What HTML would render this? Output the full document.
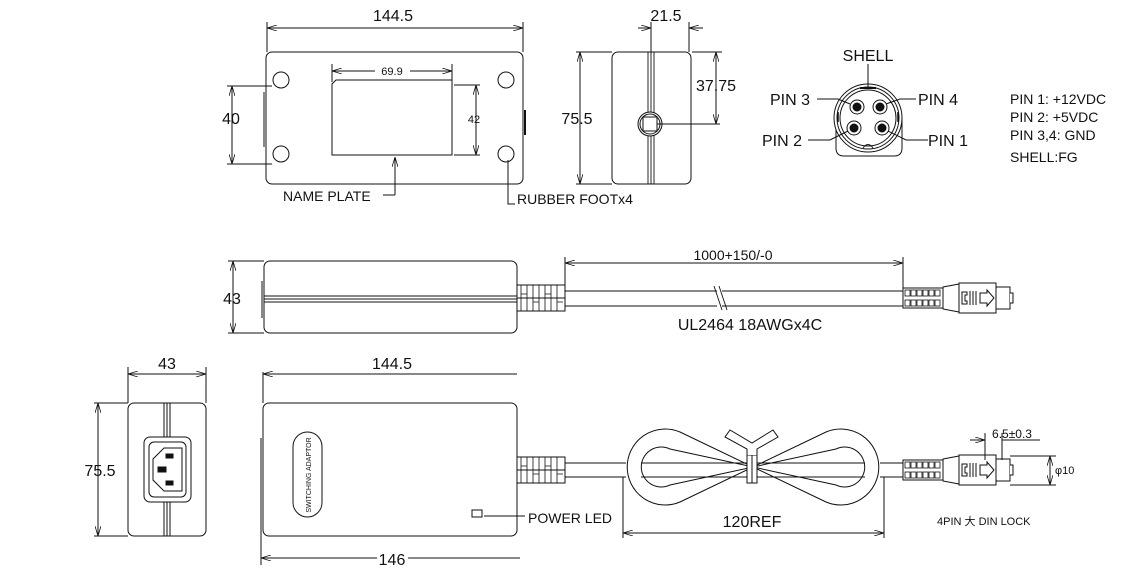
<!DOCTYPE html>
<html><head><meta charset="utf-8"><style>
html,body{margin:0;padding:0;background:#fff;}
svg{display:block;}
text{font-family:"Liberation Sans","Noto Sans CJK SC",sans-serif;fill:#111;}
</style></head><body>
<svg width="1145" height="573" viewBox="0 0 1145 573" xmlns="http://www.w3.org/2000/svg">
<defs>
<marker id="a" viewBox="0 0 10 6" refX="10" refY="3" markerWidth="10" markerHeight="6" orient="auto-start-reverse" markerUnits="userSpaceOnUse"><path d="M0,0 L10,3 L0,6" fill="none" stroke="#111" stroke-width="0.8"/></marker>
<g id="conn" fill="#fff" stroke="#111" stroke-width="1">
  <rect x="0" y="-10" width="40" height="20"/>
  <g stroke-width="0.8">
    <rect x="2" y="-8" width="5" height="6"/><rect x="8" y="-8" width="5" height="6"/><rect x="14" y="-8" width="5" height="6"/><rect x="20" y="-8" width="5" height="6"/><rect x="26" y="-8" width="5" height="6"/><rect x="32" y="-8" width="5" height="6"/>
    <rect x="2" y="2" width="5" height="6"/><rect x="8" y="2" width="5" height="6"/><rect x="14" y="2" width="5" height="6"/><rect x="20" y="2" width="5" height="6"/><rect x="26" y="2" width="5" height="6"/><rect x="32" y="2" width="5" height="6"/>
  </g>
  <path d="M40,-11 L56,-14 L56,14 L40,11 Z"/>
  <rect x="56" y="-15" width="37" height="30"/>
  <path d="M59,-6 h5 v3 h-2 v6 h2 v3 h-5 Z"/>
  <line x1="67" y1="-7" x2="67" y2="7"/><line x1="70" y1="-7" x2="70" y2="7"/><line x1="73" y1="-7" x2="73" y2="7"/>
  <path d="M77,-5 h7 v-3 l7,8 l-7,8 v-3 h-7 Z"/>
  <rect x="93" y="-11" width="14" height="22"/>
  <path d="M107,-5 h3 v10 h-3"/>
</g>
<g id="relief" fill="#fff" stroke="#111" stroke-width="1">
  <rect x="0" y="-13" width="48" height="26"/>
  <path d="M0,0 H48" />
  <path d="M4,-13 v26 M10,-13 v26 M16,-13 v26 M22,-13 v26 M28,-13 v26 M34,-13 v26 M40,-13 v26" stroke-width="0.8"/>
  <path d="M4,-4 h6 M16,4 h6 M28,-4 h6 M40,4 h6" stroke-width="0.8"/>
</g>
</defs>
<g fill="none" stroke="#111" stroke-width="1">
<!-- TOP VIEW -->
<rect x="266" y="52" width="257" height="132" rx="6"/>
<path d="M264,92 V147"/>
<path d="M525,110 V135" stroke-width="2"/>
<circle cx="281" cy="80" r="8"/><circle cx="281" cy="154" r="8"/>
<circle cx="506" cy="80" r="8"/><circle cx="506" cy="154" r="8"/>
<path d="M336,80 L332,84 V155 H452 V80 Z"/>
<path d="M267,22 V52 M523,22 V52"/>
<line x1="267" y1="28" x2="523" y2="28" marker-start="url(#a)" marker-end="url(#a)"/>
<path d="M332,64 V82 M452,64 V82"/>
<line x1="332" y1="71" x2="375" y2="71" marker-start="url(#a)"/>
<line x1="410" y1="71" x2="452" y2="71" marker-end="url(#a)"/>
<path d="M454,85 H480 M454,155 H480"/>
<line x1="476" y1="85" x2="476" y2="155" marker-start="url(#a)" marker-end="url(#a)"/>
<path d="M227,86 H272 M227,164 H272"/>
<line x1="232" y1="86" x2="232" y2="164" marker-start="url(#a)" marker-end="url(#a)"/>
<line x1="395" y1="195" x2="395" y2="157" marker-end="url(#a)"/>
<path d="M383,195 H395"/>
<path d="M508,160 V204 H515"/>

<!-- SIDE VIEW -->
<rect x="612" y="52" width="79" height="132" rx="6"/>
<path d="M648,52 V184 M651,52 V184 M654,52 V184" stroke-width="0.9"/>
<circle cx="650" cy="124" r="12" fill="#fff"/>
<circle cx="650" cy="124" r="10"/>
<rect x="643" y="117" width="14" height="14" fill="#fff"/>
<path d="M657,124 H720"/>
<path d="M576,52 H612 M576,184 H612"/>
<line x1="580" y1="52" x2="580" y2="184" marker-start="url(#a)" marker-end="url(#a)"/>
<path d="M651,22 V52 M689,22 V52"/>
<line x1="638" y1="28" x2="651" y2="28" marker-end="url(#a)"/>
<line x1="703" y1="28" x2="689" y2="28" marker-end="url(#a)"/>
<path d="M692,52 H722"/>
<line x1="716" y1="52" x2="716" y2="124" marker-start="url(#a)" marker-end="url(#a)"/>

<!-- PIN VIEW -->
<path d="M836,118 V148 Q836,156 844,156 H894 Q902,156 902,148 V118"/>
<circle cx="868" cy="118" r="34" fill="#fff"/>
<circle cx="868" cy="118" r="31"/>
<circle cx="868" cy="118" r="28"/>
<path d="M860,88 H876" stroke-width="2"/>
<path d="M863,148 Q868,141 873,148"/>
<path d="M838,112 v10 M898,112 v10" stroke-width="1.5"/>
<circle cx="857" cy="107" r="7"/><circle cx="857" cy="107" r="4" fill="#111"/>
<circle cx="880" cy="107" r="7"/><circle cx="880" cy="107" r="4" fill="#111"/>
<circle cx="854" cy="128" r="7"/><circle cx="854" cy="128" r="4" fill="#111"/>
<circle cx="882" cy="128" r="7"/><circle cx="882" cy="128" r="4" fill="#111"/>
<path d="M868,64 V88"/>
<path d="M817,99 H838 L850,104"/>
<path d="M916,99 H900 L886,104"/>
<path d="M808,140 H830 L848,131"/>
<path d="M928,140 H906 L888,131"/>

<!-- MIDDLE VIEW -->
<rect x="264" y="261" width="253" height="72" rx="6"/>
<path d="M264,296 H517 M264,299 H517 M264,302 H517" stroke-width="1"/>
<path d="M262,281 V318"/>
<path d="M228,261 H264 M228,333 H264"/>
<line x1="233" y1="261" x2="233" y2="333" marker-start="url(#a)" marker-end="url(#a)"/>
<use href="#relief" x="517" y="298"/>
<path d="M565,291 H903 M565,306 H903"/>
<rect x="717" y="289" width="5" height="19" fill="#fff" stroke="none"/>
<path d="M714,286 L722,310 M719,286 L727,310" stroke-width="0.9"/>
<path d="M565,257 V291 M903,257 V291"/>
<line x1="565" y1="263" x2="903" y2="263" marker-start="url(#a)" marker-end="url(#a)"/>
<use href="#conn" x="903" y="298"/>

<!-- BOTTOM LEFT VIEW -->
<rect x="128" y="403" width="78" height="133" rx="6"/>
<path d="M164,403 V536 M167,403 V536 M170,403 V536"/>
<rect x="144" y="437" width="47" height="65" rx="6" fill="#fff"/>
<rect x="149" y="442" width="37" height="55" rx="5"/>
<path d="M164,448 H182 V491 H164 L153,480 V459 Z"/>
<rect x="166" y="454" width="7" height="4" fill="#111"/>
<rect x="158" y="467" width="8" height="5" fill="#111"/>
<rect x="166" y="481" width="7" height="4" fill="#111"/>
<path d="M128,367 V403 M206,367 V403"/>
<line x1="128" y1="374" x2="206" y2="374" marker-start="url(#a)" marker-end="url(#a)"/>
<path d="M94,403 H128 M94,536 H128"/>
<line x1="98" y1="403" x2="98" y2="536" marker-start="url(#a)" marker-end="url(#a)"/>

<!-- BOTTOM MAIN VIEW -->
<rect x="263" y="403" width="254" height="133" rx="6"/>
<path d="M261,438 V538"/>
<path d="M263,372 V403"/>
<line x1="263" y1="374" x2="517" y2="374" marker-start="url(#a)"/>
<line x1="261" y1="558" x2="520" y2="558" marker-start="url(#a)"/>
<path d="M261,538 V565"/>
<rect x="293" y="432" width="29" height="85" rx="14.5"/>
<rect x="472" y="510" width="10" height="7"/>
<path d="M484,516 H525"/>
<use href="#relief" x="517" y="470"/>
<path d="M565,463 H626 M565,477 H626 M880,463 H903 M880,477 H903"/>
<!-- loops -->
<path d="M680,432 A38,38 0 1 0 680,502 L826,432 A38,38 0 1 1 826,502 Z"/>
<path d="M670,449 A20,20 0 1 0 670,485 L836,449 A20,20 0 1 1 836,485 Z"/>
<path d="M641,463 H865 M641,477 H865"/>
<!-- tie -->
<rect x="747" y="455" width="10" height="28" fill="#fff"/>
<path d="M752,455 V483"/>
<path d="M747,455 V449 L725,437 L730,430 L752,443 L773,430 L778,437 L757,449 V455" fill="#fff"/>
<path d="M623,477 V538 M884,477 V538"/>
<line x1="623" y1="533" x2="884" y2="533" marker-start="url(#a)" marker-end="url(#a)"/>
<use href="#conn" x="903" y="470"/>
<path d="M985,433 V460 M1002,433 V460"/>
<line x1="970" y1="440" x2="985" y2="440" marker-end="url(#a)"/>
<line x1="1040" y1="440" x2="1002" y2="440"/>
<path d="M1010,456 H1056 M1010,485 H1056"/>
<line x1="1050" y1="456" x2="1050" y2="485" marker-start="url(#a)" marker-end="url(#a)"/>
</g>

<g font-size="16">
<text x="393" y="21" text-anchor="middle">144.5</text>
<text x="392" y="75" text-anchor="middle" font-size="11">69.9</text>
<text x="474" y="123" text-anchor="middle" font-size="11">42</text>
<text x="231" y="124" text-anchor="middle">40</text>
<text x="283" y="201" font-size="14">NAME PLATE</text>
<text x="517" y="204" font-size="14">RUBBER FOOTx4</text>
<text x="577" y="124" text-anchor="middle">75.5</text>
<text x="666" y="21" text-anchor="middle">21.5</text>
<text x="716" y="91" text-anchor="middle">37.75</text>
<text x="868" y="61" text-anchor="middle">SHELL</text>
<text x="770" y="105">PIN 3</text>
<text x="918" y="105">PIN 4</text>
<text x="762" y="146">PIN 2</text>
<text x="928" y="146">PIN 1</text>
<text x="1010" y="104" font-size="14">PIN 1: +12VDC</text>
<text x="1010" y="122" font-size="14">PIN 2: +5VDC</text>
<text x="1010" y="140" font-size="14">PIN 3,4: GND</text>
<text x="1010" y="162" font-size="14">SHELL:FG</text>
<text x="232" y="304" text-anchor="middle">43</text>
<text x="733" y="260" text-anchor="middle" font-size="14">1000+150/-0</text>
<text x="750" y="330" text-anchor="middle">UL2464 18AWGx4C</text>
<text x="167" y="369" text-anchor="middle">43</text>
<text x="100" y="476" text-anchor="middle">75.5</text>
<text x="392" y="369" text-anchor="middle">144.5</text>
<text x="392" y="565" text-anchor="middle" fill="#111" stroke="#fff" stroke-width="6" paint-order="stroke">146</text>
<text x="528" y="523" font-size="14">POWER LED</text>
<text x="752" y="527" text-anchor="middle">120REF</text>
<text x="1012" y="438" text-anchor="middle" font-size="12">6.5±0.3</text>
<text x="1055" y="474" font-size="11">φ10</text>
<text x="937" y="525" font-size="11">4PIN 大 DIN LOCK</text>
<text transform="translate(311,475) rotate(-90)" text-anchor="middle" font-size="7">SWITCHING ADAPTOR</text>
</g>
</svg>
</body></html>
